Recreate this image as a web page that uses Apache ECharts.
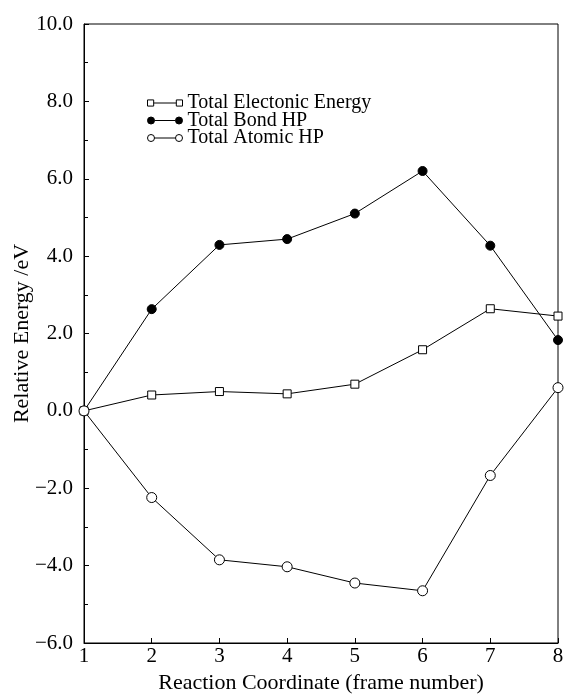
<!DOCTYPE html>
<html>
<head>
<meta charset="utf-8">
<script src="https://cdn.jsdelivr.net/npm/echarts@6/dist/echarts.min.js"></script>
<style>html,body{margin:0;padding:0;background:#fff;}#c{width:564px;height:697px;}</style>
</head>
<body>
<div id="c"></div>
<script>
var frames = [1, 2, 3, 4, 5, 6, 7, 8];
var electronic = [0, 0.41, 0.50, 0.44, 0.69, 1.58, 2.64, 2.45];
var bondHP = [0, 2.63, 4.29, 4.44, 5.10, 6.20, 4.27, 1.83];
var atomicHP = [0, -2.24, -3.85, -4.03, -4.45, -4.65, -1.67, 0.60];
var seriesNames = ['Total Electonic Energy', 'Total Bond HP', 'Total Atomic HP'];

function pairs(ys) { return frames.map(function (x, i) { return [x, ys[i]]; }); }

var font = 'Liberation Serif, DejaVu Serif, serif';
var sqIcon = 'path://M0.5,0.5L6.5,0.5L6.5,6.5L0.5,6.5ZM6.5,3.5L28.5,3.5M28.5,0.5L34.5,0.5L34.5,6.5L28.5,6.5Z';
var ciIcon = 'path://M7,3.5A3.5,3.5,0,1,1,0,3.5A3.5,3.5,0,1,1,7,3.5ZM7,3.5L28,3.5M35,3.5A3.5,3.5,0,1,1,28,3.5A3.5,3.5,0,1,1,35,3.5Z';

var chart = echarts.init(document.getElementById('c'), null, {renderer: 'canvas'});
chart.setOption({
  backgroundColor: '#fff',
  animation: false,
  grid: {left: 84, right: 6, top: 24, bottom: 54, containLabel: false, outerBoundsMode: 'none',
    show: true, borderColor: '#000', borderWidth: 1, backgroundColor: 'transparent'},
  legend: {
    left: 142, top: 88, orient: 'vertical', itemGap: -2.5, itemWidth: 35, itemHeight: 7,
    textStyle: {fontFamily: font, fontSize: 20, lineHeight: 18, color: '#000'},
    data: [
      {name: seriesNames[0], icon: sqIcon, itemStyle: {color: '#fff', borderColor: '#000', borderWidth: 1}},
      {name: seriesNames[1], icon: ciIcon, itemStyle: {color: '#000', borderColor: '#000', borderWidth: 1}},
      {name: seriesNames[2], icon: ciIcon, itemStyle: {color: '#fff', borderColor: '#000', borderWidth: 1}}
    ]
  },
  xAxis: {
    type: 'value', min: 1, max: 8, interval: 1,
    name: 'Reaction Coordinate (frame number)', nameLocation: 'middle', nameGap: 29, nameMoveOverlap: false,
    nameTextStyle: {fontFamily: font, fontSize: 22, color: '#000'},
    axisLine: {onZero: false, lineStyle: {color: '#000', width: 1}},
    axisTick: {inside: true, length: 5, lineStyle: {color: '#000'}},
    axisLabel: {fontFamily: font, fontSize: 21, color: '#000', margin: 3},
    splitLine: {show: false}
  },
  yAxis: {
    type: 'value', min: -6, max: 10, interval: 2,
    name: 'Relative Energy /eV', nameLocation: 'middle', nameGap: 51, nameMoveOverlap: false,
    nameTextStyle: {fontFamily: font, fontSize: 22, color: '#000'},
    axisLine: {show: true, onZero: false, lineStyle: {color: '#000', width: 1}},
    axisTick: {inside: true, length: 5, lineStyle: {color: '#000'}},
    minorTick: {show: true, splitNumber: 2, length: 4, lineStyle: {color: '#000'}},
    axisLabel: {fontFamily: font, fontSize: 21, color: '#000', margin: 11,
      formatter: function (v) { var s = Math.abs(v).toFixed(1); return v < 0 ? '\u2212' + s : s; }},
    splitLine: {show: false}
  },
  series: [
    {name: seriesNames[0], type: 'line', data: pairs(electronic), symbol: 'rect', symbolSize: 8,
      lineStyle: {color: '#000', width: 1}, itemStyle: {color: '#fff', borderColor: '#000', borderWidth: 1}, z: 3},
    {name: seriesNames[1], type: 'line', data: pairs(bondHP), symbol: 'circle', symbolSize: 9,
      lineStyle: {color: '#000', width: 1}, itemStyle: {color: '#000', borderColor: '#000', borderWidth: 1}, z: 3},
    {name: seriesNames[2], type: 'line', data: pairs(atomicHP), symbol: 'circle', symbolSize: 10,
      lineStyle: {color: '#000', width: 1}, itemStyle: {color: '#fff', borderColor: '#000', borderWidth: 1}, z: 4}
  ]
});
</script>
</body>
</html>
